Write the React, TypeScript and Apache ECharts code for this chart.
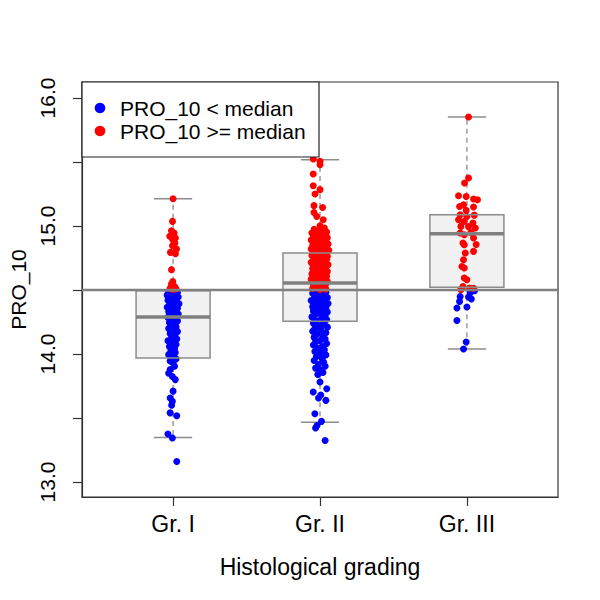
import React, { useEffect, useRef } from "react";
import * as echarts from "echarts";

const categories = ["Gr. I", "Gr. II", "Gr. III"];
const xMin = 0.38;
const xMax = 3.62;
const yMin = 12.883;
const yMax = 16.125;
const yTickValues = [13, 13.5, 14, 14.5, 15, 15.5, 16];
const yLabelValues = [13, 14, 15, 16];
const overallMedian = 14.5;

// [min, Q1, median, Q3, max] per grade
const boxStats = [
  [13.348, 13.969, 14.289, 14.495, 15.213],
  [13.466, 14.255, 14.555, 14.789, 15.518],
  [14.039, 14.521, 14.94, 15.088, 15.852],
];

// points: [jitter, value]
const grILow = [
  [0.01, 14.495], [-0.03, 14.488], [0.03, 14.482], [-0.01, 14.475], [0.02, 14.466], [-0.04, 14.46], [0.0, 14.452], [0.035, 14.445], [-0.02, 14.437], [0.015, 14.428], [-0.035, 14.42], [0.025, 14.41], [-0.005, 14.402], [0.04, 14.393], [-0.025, 14.385], [0.01, 14.376], [-0.04, 14.366], [0.03, 14.357], [-0.01, 14.348], [0.02, 14.338], [-0.03, 14.33], [0.005, 14.322], [0.035, 14.312], [-0.02, 14.303], [0.015, 14.295], [-0.035, 14.286], [0.025, 14.276], [-0.005, 14.268], [0.03, 14.258], [-0.025, 14.247], [0.01, 14.236], [-0.015, 14.225], [0.02, 14.212], [-0.03, 14.2], [0.005, 14.188], [0.03, 14.175], [-0.02, 14.16], [0.012, 14.148], [-0.01, 14.133], [0.025, 14.118], [-0.035, 14.104], [0.0, 14.09], [0.02, 14.074], [-0.025, 14.058], [0.01, 14.043], [-0.015, 14.028], [0.015, 14.012], [-0.03, 13.995], [0.005, 13.978], [0.02, 13.962], [-0.02, 13.945], [0.0, 13.93], [0.01, 13.905], [-0.02, 13.878], [-0.03, 13.85], [-0.005, 13.825], [0.015, 13.8], [0.0, 13.71], [-0.02, 13.656], [-0.005, 13.63], [-0.01, 13.6], [-0.02, 13.54], [0.025, 13.518], [-0.035, 13.375], [-0.005, 13.344], [0.025, 13.161],
];
const grIHigh = [
  [0.0, 15.213], [-0.004, 15.036], [-0.011, 14.963], [0.007, 14.945], [-0.023, 14.92], [0.016, 14.906], [-0.002, 14.893], [0.012, 14.867], [-0.004, 14.846], [0.023, 14.82], [-0.018, 14.794], [0.016, 14.784], [-0.011, 14.659], [-0.002, 14.567], [-0.011, 14.547], [0.011, 14.522], [-0.02, 14.514], [0.02, 14.51], [0.0, 14.505], [0.008, 14.53], [-0.008, 14.51],
];
const grIILow = [
  [0.02, 14.497], [-0.03, 14.49], [0.04, 14.482], [-0.05, 14.474], [0.0, 14.466], [0.03, 14.458], [-0.02, 14.45], [0.05, 14.442], [-0.04, 14.434], [0.01, 14.426], [-0.06, 14.418], [0.035, 14.41], [-0.01, 14.402], [0.055, 14.394], [-0.035, 14.386], [0.015, 14.378], [-0.05, 14.37], [0.04, 14.362], [-0.015, 14.354], [0.025, 14.346], [-0.045, 14.337], [0.05, 14.328], [0.0, 14.319], [-0.03, 14.31], [0.035, 14.3], [-0.055, 14.29], [0.01, 14.28], [0.045, 14.27], [-0.025, 14.26], [0.02, 14.25], [-0.045, 14.24], [0.03, 14.23], [-0.01, 14.22], [0.05, 14.21], [-0.035, 14.2], [0.005, 14.19], [-0.05, 14.178], [0.04, 14.166], [-0.02, 14.154], [0.02, 14.142], [-0.04, 14.13], [0.035, 14.118], [0.0, 14.106], [-0.03, 14.094], [0.045, 14.082], [-0.045, 14.07], [0.015, 14.058], [-0.015, 14.046], [0.03, 14.034], [-0.035, 14.02], [0.005, 14.006], [0.04, 13.992], [-0.025, 13.978], [0.015, 13.964], [-0.04, 13.95], [0.025, 13.935], [-0.01, 13.92], [0.035, 13.905], [-0.03, 13.89], [0.005, 13.872], [0.02, 13.855], [-0.015, 13.84],
  [0.0, 13.781], [-0.046, 13.703], [0.046, 13.729], [-0.01, 13.656], [0.04, 13.638], [0.005, 13.68], [-0.035, 13.534], [0.01, 13.474], [-0.02, 13.442], [-0.03, 13.422], [0.035, 13.325],
];
const grIIHigh = [
  [-0.046, 15.523], [0.0, 15.505], [0.0, 15.479], [-0.046, 15.406], [-0.046, 15.315], [0.0, 15.284], [-0.034, 15.25], [-0.041, 15.159], [0.018, 15.145], [-0.041, 15.106], [-0.022, 15.075], [0.022, 15.049], [0.0, 15.002],
  [0.03, 14.985], [-0.04, 14.975], [0.01, 14.968], [-0.02, 14.96], [0.045, 14.952], [-0.055, 14.945], [0.02, 14.94], [-0.01, 14.933], [0.035, 14.927], [-0.045, 14.92], [0.0, 14.914], [0.05, 14.908], [-0.03, 14.902], [0.015, 14.896], [-0.06, 14.89], [0.04, 14.884], [-0.015, 14.878], [0.025, 14.872], [-0.04, 14.866], [0.055, 14.86], [0.005, 14.855], [-0.05, 14.849], [0.03, 14.843], [-0.025, 14.838], [0.045, 14.832], [-0.005, 14.826], [-0.06, 14.82], [0.02, 14.815], [0.06, 14.81], [-0.035, 14.804], [0.01, 14.798], [0.04, 14.792], [-0.045, 14.787], [-0.01, 14.781], [0.03, 14.775], [-0.055, 14.77], [0.05, 14.764], [-0.02, 14.758], [0.015, 14.752], [-0.04, 14.746], [0.045, 14.74], [0.0, 14.734], [-0.03, 14.728], [0.035, 14.722], [-0.06, 14.716], [0.02, 14.71], [-0.015, 14.704], [0.055, 14.698], [-0.045, 14.692], [0.01, 14.686], [0.04, 14.68], [-0.025, 14.674], [-0.05, 14.668], [0.025, 14.662], [0.005, 14.656], [-0.035, 14.65], [0.05, 14.644], [-0.01, 14.638], [0.03, 14.632], [-0.055, 14.626], [0.015, 14.62], [-0.02, 14.614], [0.045, 14.608], [-0.04, 14.602], [0.0, 14.596], [0.035, 14.59], [-0.06, 14.584], [0.02, 14.578], [-0.015, 14.572], [0.05, 14.566], [-0.03, 14.56], [0.01, 14.554], [0.04, 14.548], [-0.045, 14.542], [-0.005, 14.536], [0.025, 14.53], [-0.025, 14.524], [0.015, 14.518], [-0.05, 14.512], [0.04, 14.507], [0.0, 14.503],
];
const grIIILow = [
  [0.052, 14.495], [0.022, 14.477], [0.011, 14.445], [-0.046, 14.45], [-0.05, 14.411], [0.03, 14.43], [-0.068, 14.36], [0.0, 14.367], [-0.068, 14.262], [-0.005, 14.094], [-0.023, 14.039],
];
const grIIIHigh = [
  [0.011, 15.852], [0.011, 15.375], [-0.016, 15.336], [-0.057, 15.237], [-0.005, 15.231], [0.045, 15.211], [0.072, 15.205], [-0.023, 15.166], [-0.05, 15.153], [0.045, 15.148], [-0.005, 15.122], [-0.046, 15.088], [0.05, 15.085], [0.0, 15.075], [-0.057, 15.049], [-0.018, 15.036], [0.041, 15.023], [-0.041, 14.997], [0.011, 14.995], [0.057, 14.984], [-0.046, 14.945], [0.027, 14.95], [-0.018, 14.932], [0.045, 14.906], [-0.027, 14.867], [-0.018, 14.854], [0.063, 14.856], [-0.011, 14.789], [0.045, 14.802], [-0.023, 14.737], [-0.034, 14.684], [-0.018, 14.672], [-0.018, 14.594], [0.0, 14.58], [-0.027, 14.528], [0.018, 14.516], [0.045, 14.514], [-0.041, 14.503],
];

const lowGroups = [grILow, grIILow, grIIILow];
const highGroups = [grIHigh, grIIHigh, grIIIHigh];

const FONT = "'Liberation Sans', Arial, Helvetica, sans-serif";
const BOX_HALF = 0.252;
const CAP_HALF = 0.13;

function toPoints(groups: number[][][]) {
  const out: number[][] = [];
  groups.forEach((g, i) => g.forEach(([j, v]) => out.push([i + 1 + j, v])));
  return out;
}

export default function App() {
  const ref = useRef<HTMLDivElement>(null);
  useEffect(() => {
    if (!ref.current) return;
    const chart = echarts.init(ref.current, null, { renderer: "svg" });
    const boxData = boxStats.map((s, i) => [i + 1, ...s]);

    const renderBack = (params: any, api: any) => {
      const x = api.value(0);
      const mn = api.value(1), q1 = api.value(2), q3 = api.value(4), mx = api.value(5);
      const tl = api.coord([x - BOX_HALF, q3]);
      const br = api.coord([x + BOX_HALF, q1]);
      const pTop = api.coord([x, q3]);
      const pMax = api.coord([x, mx]);
      const pBot = api.coord([x, q1]);
      const pMin = api.coord([x, mn]);
      const cMaxL = api.coord([x - CAP_HALF, mx]);
      const cMaxR = api.coord([x + CAP_HALF, mx]);
      const cMinL = api.coord([x - CAP_HALF, mn]);
      const cMinR = api.coord([x + CAP_HALF, mn]);
      const dash = { stroke: "#8c8c8c", lineWidth: 1.3, lineDash: [5, 4] };
      const solid = { stroke: "#8c8c8c", lineWidth: 1.5 };
      return {
        type: "group",
        children: [
          { type: "rect", shape: { x: tl[0], y: tl[1], width: br[0] - tl[0], height: br[1] - tl[1] }, style: { fill: "#f1f1f1", stroke: null } },
          { type: "line", shape: { x1: pTop[0], y1: pTop[1], x2: pMax[0], y2: pMax[1] }, style: dash },
          { type: "line", shape: { x1: pBot[0], y1: pBot[1], x2: pMin[0], y2: pMin[1] }, style: dash },
          { type: "line", shape: { x1: cMaxL[0], y1: cMaxL[1], x2: cMaxR[0], y2: cMaxR[1] }, style: solid },
          { type: "line", shape: { x1: cMinL[0], y1: cMinL[1], x2: cMinR[0], y2: cMinR[1] }, style: solid },
        ],
      };
    };

    const renderFront = (params: any, api: any) => {
      const x = api.value(0);
      const q1 = api.value(2), med = api.value(3), q3 = api.value(4);
      const tl = api.coord([x - BOX_HALF, q3]);
      const br = api.coord([x + BOX_HALF, q1]);
      const mL = api.coord([x - BOX_HALF, med]);
      const mR = api.coord([x + BOX_HALF, med]);
      return {
        type: "group",
        children: [
          { type: "rect", shape: { x: tl[0], y: tl[1], width: br[0] - tl[0], height: br[1] - tl[1] }, style: { fill: "none", stroke: "#8c8c8c", lineWidth: 1.5 } },
          { type: "line", shape: { x1: mL[0], y1: mL[1], x2: mR[0], y2: mR[1] }, style: { stroke: "#808080", lineWidth: 3.5 } },
        ],
      };
    };

    chart.setOption({
      animation: false,
      backgroundColor: "#ffffff",
      grid: { left: 82, right: 42, top: 82, bottom: 103, containLabel: false, outerBoundsMode: "none", show: true, borderColor: "#333", borderWidth: 1.2, backgroundColor: "transparent" },
      xAxis: {
        type: "value",
        min: xMin,
        max: xMax,
        axisLine: { show: true, lineStyle: { color: "#333", width: 1.2 } },
        axisTick: { show: true, customValues: [1, 2, 3], length: 9, lineStyle: { color: "#333", width: 1.2 } },
        axisLabel: { customValues: [1, 2, 3], formatter: (v: number) => categories[Math.round(v) - 1], fontSize: 23, color: "#000", fontFamily: FONT, margin: 15 },
        splitLine: { show: false },
        name: "Histological grading",
        nameLocation: "middle",
        nameGap: 58,
        nameTextStyle: { fontSize: 23, color: "#000", fontFamily: FONT },
      },
      yAxis: {
        type: "value",
        min: yMin,
        max: yMax,
        axisLine: { show: true, lineStyle: { color: "#333", width: 1.2 } },
        axisTick: { show: true, customValues: yTickValues, length: 9, lineStyle: { color: "#333", width: 1.2 } },
        axisLabel: { customValues: yLabelValues, formatter: (v: number) => v.toFixed(1), rotate: 90, fontSize: 21, color: "#000", fontFamily: FONT, margin: 24 },
        splitLine: { show: false },
        name: "PRO_10",
        nameLocation: "middle",
        nameGap: 50,
        nameRotate: 90,
        nameTextStyle: { fontSize: 21, color: "#000", fontFamily: FONT },
      },
      series: [
        { type: "custom", renderItem: renderBack, data: boxData, z: 1, silent: true },
        { type: "scatter", data: toPoints(lowGroups), symbol: "circle", symbolSize: 7, itemStyle: { color: "#0000ff", opacity: 1 }, z: 2, silent: true },
        { type: "scatter", data: toPoints(highGroups), symbol: "circle", symbolSize: 7, itemStyle: { color: "#ff0000", opacity: 1 }, z: 2, silent: true },
        { type: "custom", renderItem: renderFront, data: boxData, z: 3, silent: true },
        { type: "line", data: [[xMin, overallMedian], [xMax, overallMedian]], showSymbol: false, lineStyle: { color: "#808080", width: 2.5 }, z: 4, silent: true },
      ],
      graphic: [
        { type: "rect", shape: { x: 82, y: 82, width: 237, height: 75 }, style: { fill: "#fff", stroke: "#222", lineWidth: 1.2 }, z: 100 },
        { type: "circle", shape: { cx: 100, cy: 108, r: 5.3 }, style: { fill: "#0000ff" }, z: 101 },
        { type: "circle", shape: { cx: 100, cy: 131, r: 5.3 }, style: { fill: "#ff0000" }, z: 101 },
        { type: "text", x: 120, y: 108, style: { text: "PRO_10 < median", fontSize: 21, fontFamily: FONT, fill: "#000", verticalAlign: "middle" }, z: 101 },
        { type: "text", x: 120, y: 131, style: { text: "PRO_10 >= median", fontSize: 21, fontFamily: FONT, fill: "#000", verticalAlign: "middle" }, z: 101 },
      ],
    });
    return () => chart.dispose();
  }, []);
  return <div ref={ref} style={{ position: "absolute", left: 0, top: 0, width: 600, height: 600 }} />;
}
